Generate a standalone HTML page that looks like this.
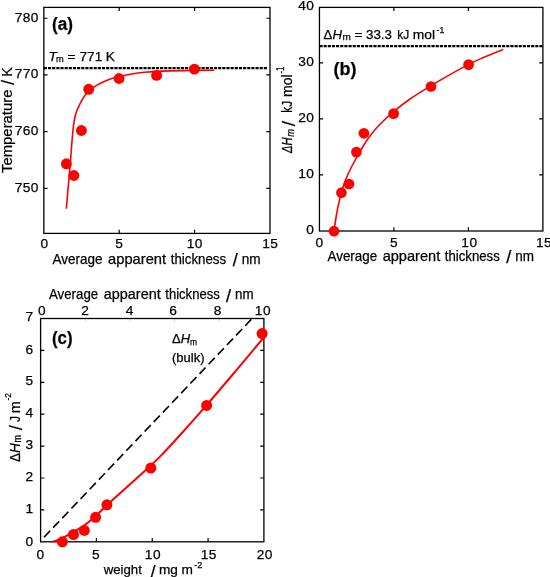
<!DOCTYPE html>
<html><head><meta charset="utf-8"><title>Figure</title>
<style>
html,body{margin:0;padding:0;background:#fff;}
svg{display:block;}
text{font-family:"Liberation Sans",sans-serif;font-size:13.7px;fill:#000;stroke:#000;stroke-width:0.25px;}
</style></head><body>
<svg width="550" height="577" viewBox="0 0 550 577">
<rect width="550" height="577" fill="#fff"/>
<!-- panel a -->
<path d="M43.85 18.25 h3.70 M270.00 18.25 h-3.70 M43.85 74.95 h3.70 M270.00 74.95 h-3.70 M43.85 131.60 h3.70 M270.00 131.60 h-3.70 M43.85 188.30 h3.70 M270.00 188.30 h-3.70 M119.20 7.40 v3.70 M119.20 233.40 v-3.70 M194.60 7.40 v3.70 M194.60 233.40 v-3.70 " fill="none" stroke="#000" stroke-width="1.20"/>
<rect x="43.85" y="7.40" width="226.15" height="226.00" fill="none" stroke="#000" stroke-width="1.30"/>
<path d="M43.85 68.15 H267.2" stroke="#000" stroke-width="2.1" stroke-dasharray="3.15 1" fill="none"/>
<path d="M66.30 208.80 C66.52 206.33 67.19 198.63 67.60 194.00 C68.01 189.37 68.40 185.00 68.75 181.00 C69.10 177.00 69.40 173.50 69.70 170.00 C70.00 166.50 70.28 163.33 70.55 160.00 C70.82 156.67 71.04 153.33 71.30 150.00 C71.56 146.67 71.82 143.33 72.10 140.00 C72.38 136.67 72.75 132.50 73.00 130.00 C73.25 127.50 73.38 126.67 73.60 125.00 C73.82 123.33 74.08 121.50 74.35 120.00 C74.62 118.50 74.89 117.23 75.20 116.00 C75.51 114.77 75.83 113.72 76.20 112.60 C76.58 111.48 77.00 110.35 77.45 109.30 C77.90 108.25 78.41 107.35 78.90 106.30 C79.39 105.25 79.87 104.05 80.40 103.00 C80.93 101.95 81.52 101.00 82.10 100.00 C82.68 99.00 83.25 98.00 83.90 97.00 C84.55 96.00 85.07 95.12 86.00 94.00 C86.93 92.88 88.17 91.47 89.50 90.30 C90.83 89.13 92.25 88.13 94.00 87.00 C95.75 85.87 98.00 84.53 100.00 83.50 C102.00 82.47 104.00 81.62 106.00 80.80 C108.00 79.98 109.83 79.30 112.00 78.60 C114.17 77.90 116.83 77.17 119.00 76.60 C121.17 76.03 122.65 75.67 125.00 75.20 C127.35 74.73 129.85 74.28 133.10 73.80 C136.35 73.32 140.68 72.70 144.50 72.30 C148.32 71.90 151.75 71.63 156.00 71.40 C160.25 71.17 163.58 71.05 170.00 70.90 C176.42 70.75 187.13 70.62 194.50 70.50 C201.87 70.38 210.92 70.25 214.20 70.20" fill="none" stroke="#ff0000" stroke-width="1.60"/>
<circle cx="66.40" cy="163.80" r="5.45" fill="#ff0000"/>
<circle cx="73.90" cy="175.50" r="5.45" fill="#ff0000"/>
<circle cx="81.40" cy="130.50" r="5.45" fill="#ff0000"/>
<circle cx="88.70" cy="89.30" r="5.45" fill="#ff0000"/>
<circle cx="119.10" cy="78.50" r="5.45" fill="#ff0000"/>
<circle cx="156.60" cy="75.40" r="5.45" fill="#ff0000"/>
<circle cx="194.40" cy="69.10" r="5.45" fill="#ff0000"/>
<text x="38.95" y="21.55" text-anchor="end" style="letter-spacing:0.45px;">780</text>
<text x="38.95" y="78.25" text-anchor="end" style="letter-spacing:0.45px;">770</text>
<text x="38.95" y="134.90" text-anchor="end" style="letter-spacing:0.45px;">760</text>
<text x="38.95" y="191.60" text-anchor="end" style="letter-spacing:0.45px;">750</text>
<text x="44.30" y="248.30" text-anchor="middle">0</text>
<text x="119.10" y="248.30" text-anchor="middle">5</text>
<text x="194.82" y="248.30" text-anchor="middle" style="letter-spacing:0.45px;">10</text>
<text x="270.23" y="248.30" text-anchor="middle" style="letter-spacing:0.45px;">15</text>
<text x="52.40" y="263.50" style="font-size:14.30px;" textLength="50.05" lengthAdjust="spacingAndGlyphs">Average</text>
<text x="108.05" y="263.50" style="font-size:14.30px;" textLength="58.06" lengthAdjust="spacingAndGlyphs">apparent</text>
<text x="170.71" y="263.50" style="font-size:14.30px;" textLength="55.45" lengthAdjust="spacingAndGlyphs">thickness</text>
<text x="235.18" y="265.90" text-anchor="middle" style="font-size:18.16px;">/</text>
<text x="241.78" y="263.50" style="font-size:14.30px;" textLength="18.92" lengthAdjust="spacingAndGlyphs">nm</text>
<g transform="translate(11.80 173.00) rotate(-90)">
<text x="0.00" y="0.00" style="font-size:14.30px;" textLength="83.50" lengthAdjust="spacingAndGlyphs">Temperature</text>
<text x="90.50" y="2.40" text-anchor="middle" style="font-size:18.16px;">/</text>
<text x="101.00" y="0.00" text-anchor="middle" style="font-size:14.30px;">K</text>
</g>
<text x="52.00" y="29.50" style="font-size:19.20px;font-weight:bold;" textLength="21.00" lengthAdjust="spacingAndGlyphs">(a)</text>
<text x="48.40" y="61.30" style="font-style:italic;">T</text>
<text x="56.00" y="62.40" style="font-size:9.60px;" textLength="7.70" lengthAdjust="spacingAndGlyphs">m</text>
<text x="71.50" y="61.30" text-anchor="middle">=</text>
<text x="79.50" y="61.30" textLength="22.70" lengthAdjust="spacingAndGlyphs">771</text>
<text x="110.40" y="61.30" text-anchor="middle">K</text>
<!-- panel b -->
<path d="M319.45 62.90 h3.70 M542.90 62.90 h-3.70 M319.45 118.85 h3.70 M542.90 118.85 h-3.70 M319.45 174.90 h3.70 M542.90 174.90 h-3.70 M393.90 7.40 v3.70 M393.90 231.00 v-3.70 M468.40 7.40 v3.70 M468.40 231.00 v-3.70 " fill="none" stroke="#000" stroke-width="1.20"/>
<rect x="319.45" y="7.40" width="223.45" height="223.60" fill="none" stroke="#000" stroke-width="1.30"/>
<path d="M319.45 46.1 H542.90" stroke="#000" stroke-width="2.1" stroke-dasharray="3.15 1" fill="none"/>
<path d="M334.00 231.00 C334.43 228.17 335.75 218.88 336.60 214.00 C337.45 209.12 338.17 205.70 339.10 201.70 C340.03 197.70 341.12 193.65 342.20 190.00 C343.28 186.35 343.97 183.80 345.60 179.80 C347.23 175.80 349.43 171.00 352.00 166.00 C354.57 161.00 358.17 154.60 361.00 149.80 C363.83 145.00 365.83 141.45 369.00 137.20 C372.17 132.95 375.88 128.57 380.00 124.30 C384.12 120.03 388.70 115.82 393.70 111.60 C398.70 107.38 403.75 103.33 410.00 99.00 C416.25 94.67 424.53 89.67 431.20 85.60 C437.87 81.53 443.75 78.13 450.00 74.60 C456.25 71.07 463.40 67.13 468.70 64.40 C474.00 61.67 477.50 60.12 481.80 58.20 C486.10 56.28 490.93 54.35 494.50 52.90 C498.07 51.45 501.75 50.07 503.20 49.50" fill="none" stroke="#ff0000" stroke-width="1.60"/>
<circle cx="334.00" cy="231.20" r="5.35" fill="#ff0000"/>
<circle cx="341.40" cy="192.70" r="5.35" fill="#ff0000"/>
<circle cx="349.00" cy="184.00" r="5.35" fill="#ff0000"/>
<circle cx="356.40" cy="152.10" r="5.35" fill="#ff0000"/>
<circle cx="363.90" cy="133.30" r="5.35" fill="#ff0000"/>
<circle cx="393.60" cy="113.60" r="5.35" fill="#ff0000"/>
<circle cx="431.00" cy="86.50" r="5.35" fill="#ff0000"/>
<circle cx="468.60" cy="64.60" r="5.35" fill="#ff0000"/>
<text x="314.40" y="10.30" text-anchor="end" style="letter-spacing:0.45px;">40</text>
<text x="314.40" y="66.30" text-anchor="end" style="letter-spacing:0.45px;">30</text>
<text x="314.40" y="122.25" text-anchor="end" style="letter-spacing:0.45px;">20</text>
<text x="314.40" y="178.30" text-anchor="end" style="letter-spacing:0.45px;">10</text>
<text x="313.95" y="234.40" text-anchor="end">0</text>
<text x="319.40" y="246.70" text-anchor="middle">0</text>
<text x="393.90" y="246.70" text-anchor="middle">5</text>
<text x="469.43" y="246.70" text-anchor="middle" style="letter-spacing:0.45px;">10</text>
<text x="544.02" y="246.70" text-anchor="middle" style="letter-spacing:0.45px;">15</text>
<text x="327.50" y="260.90" style="font-size:14.30px;" textLength="49.62" lengthAdjust="spacingAndGlyphs">Average</text>
<text x="382.67" y="260.90" style="font-size:14.30px;" textLength="57.55" lengthAdjust="spacingAndGlyphs">apparent</text>
<text x="444.79" y="260.90" style="font-size:14.30px;" textLength="54.97" lengthAdjust="spacingAndGlyphs">thickness</text>
<text x="508.70" y="263.30" text-anchor="middle" style="font-size:18.16px;">/</text>
<text x="515.25" y="260.90" style="font-size:14.30px;" textLength="18.75" lengthAdjust="spacingAndGlyphs">nm</text>
<g transform="translate(292.20 153.00) rotate(-90)">
<text x="0.00" y="0.00" style="font-size:14.90px;font-style:italic;" textLength="15.60" lengthAdjust="spacingAndGlyphs">ΔH</text>
<text x="16.20" y="1.30" style="font-size:10.40px;font-style:italic;" textLength="7.80" lengthAdjust="spacingAndGlyphs">m</text>
<text x="29.50" y="2.40" text-anchor="middle" style="font-size:18.92px;">/</text>
<text x="40.30" y="0.00" style="font-size:14.90px;" textLength="11.90" lengthAdjust="spacingAndGlyphs">kJ</text>
<text x="56.00" y="0.00" style="font-size:14.90px;" textLength="22.50" lengthAdjust="spacingAndGlyphs">mol</text>
<text x="79.50" y="-8.30" style="font-size:10.00px;" textLength="7.00" lengthAdjust="spacingAndGlyphs">-1</text>
</g>
<text x="333.50" y="75.20" style="font-size:19.20px;font-weight:bold;" textLength="23.00" lengthAdjust="spacingAndGlyphs">(b)</text>
<text x="323.60" y="39.00" textLength="18.30" lengthAdjust="spacingAndGlyphs">Δ<tspan font-style="italic">H</tspan></text>
<text x="342.50" y="40.10" style="font-size:9.60px;" textLength="8.30" lengthAdjust="spacingAndGlyphs">m</text>
<text x="358.55" y="39.00" text-anchor="middle">=</text>
<text x="366.00" y="39.00" textLength="26.00" lengthAdjust="spacingAndGlyphs">33.3</text>
<text x="397.30" y="39.00" textLength="12.00" lengthAdjust="spacingAndGlyphs">kJ</text>
<text x="412.70" y="39.00" textLength="22.30" lengthAdjust="spacingAndGlyphs">mol</text>
<text x="436.50" y="32.50" style="font-size:9.40px;" textLength="7.70" lengthAdjust="spacingAndGlyphs">-1</text>
<!-- panel c -->
<path d="M40.60 509.90 h3.70 M263.90 509.90 h-3.70 M40.60 478.00 h3.70 M263.90 478.00 h-3.70 M40.60 446.10 h3.70 M263.90 446.10 h-3.70 M40.60 414.20 h3.70 M263.90 414.20 h-3.70 M40.60 382.30 h3.70 M263.90 382.30 h-3.70 M40.60 350.40 h3.70 M263.90 350.40 h-3.70 M96.42 541.80 v-3.70 M152.25 541.80 v-3.70 M208.07 541.80 v-3.70 " fill="none" stroke="#000" stroke-width="1.20"/>
<path d="M85.26 318.50 v3.20 M129.92 318.50 v3.20 M174.58 318.50 v3.20 M219.24 318.50 v3.20 " fill="none" stroke="#d0d0d0" stroke-width="1.00"/>
<rect x="40.60" y="318.50" width="223.30" height="223.30" fill="none" stroke="#000" stroke-width="1.30"/>
<path d="M44 537.3 L251.7 319.0" stroke="#000" stroke-width="1.65" stroke-dasharray="8.8 4.47" fill="none"/>
<path d="M52.30 541.80 C53.58 541.37 57.33 540.37 60.00 539.20 C62.67 538.03 64.25 537.10 68.30 534.80 C72.35 532.50 79.77 528.50 84.30 525.40 C88.83 522.30 91.72 519.60 95.50 516.20 C99.28 512.80 102.08 509.57 107.00 505.00 C111.92 500.43 118.67 494.50 125.00 488.80 C131.33 483.10 139.00 476.33 145.00 470.80 C151.00 465.27 155.00 461.73 161.00 455.60 C167.00 449.47 173.43 442.37 181.00 434.00 C188.57 425.63 197.40 415.77 206.40 405.40 C215.40 395.03 225.42 383.15 235.00 371.80 C244.58 360.45 259.08 343.05 263.90 337.30" fill="none" stroke="#ff0000" stroke-width="2.00"/>
<circle cx="62.40" cy="541.80" r="5.50" fill="#ff0000"/>
<circle cx="73.50" cy="534.50" r="5.50" fill="#ff0000"/>
<circle cx="84.30" cy="530.40" r="5.50" fill="#ff0000"/>
<circle cx="95.60" cy="517.30" r="5.50" fill="#ff0000"/>
<circle cx="106.90" cy="504.80" r="5.50" fill="#ff0000"/>
<circle cx="150.80" cy="468.10" r="5.50" fill="#ff0000"/>
<circle cx="206.60" cy="405.40" r="5.50" fill="#ff0000"/>
<circle cx="262.10" cy="333.60" r="5.50" fill="#ff0000"/>
<text x="33.20" y="545.80" text-anchor="end">0</text>
<text x="33.20" y="513.00" text-anchor="end">1</text>
<text x="33.20" y="481.10" text-anchor="end">2</text>
<text x="33.20" y="449.20" text-anchor="end">3</text>
<text x="33.20" y="417.30" text-anchor="end">4</text>
<text x="33.20" y="385.40" text-anchor="end">5</text>
<text x="33.20" y="353.50" text-anchor="end">6</text>
<text x="33.20" y="320.80" text-anchor="end">7</text>
<text x="40.30" y="559.00" text-anchor="middle">0</text>
<text x="95.90" y="559.00" text-anchor="middle">5</text>
<text x="152.92" y="559.00" text-anchor="middle" style="letter-spacing:0.45px;">10</text>
<text x="208.72" y="559.00" text-anchor="middle" style="letter-spacing:0.45px;">15</text>
<text x="264.73" y="559.00" text-anchor="middle" style="letter-spacing:0.45px;">20</text>
<text x="41.70" y="315.30" text-anchor="middle">0</text>
<text x="85.10" y="315.30" text-anchor="middle">2</text>
<text x="129.60" y="315.30" text-anchor="middle">4</text>
<text x="173.10" y="315.30" text-anchor="middle">6</text>
<text x="217.60" y="315.30" text-anchor="middle">8</text>
<text x="262.93" y="315.30" text-anchor="middle" style="letter-spacing:0.45px;">10</text>
<text x="49.00" y="299.10" style="font-size:14.30px;" textLength="49.18" lengthAdjust="spacingAndGlyphs">Average</text>
<text x="103.69" y="299.10" style="font-size:14.30px;" textLength="57.05" lengthAdjust="spacingAndGlyphs">apparent</text>
<text x="165.27" y="299.10" style="font-size:14.30px;" textLength="54.49" lengthAdjust="spacingAndGlyphs">thickness</text>
<text x="228.62" y="301.50" text-anchor="middle" style="font-size:18.16px;">/</text>
<text x="235.11" y="299.10" style="font-size:14.30px;" textLength="18.59" lengthAdjust="spacingAndGlyphs">nm</text>
<text x="103.70" y="574.30" textLength="38.20" lengthAdjust="spacingAndGlyphs">weight</text>
<text x="153.15" y="576.70" text-anchor="middle" style="font-size:17.40px;">/</text>
<text x="159.00" y="574.30" textLength="18.90" lengthAdjust="spacingAndGlyphs">mg</text>
<text x="187.20" y="574.30" text-anchor="middle">m</text>
<text x="194.30" y="568.40" style="font-size:9.40px;" textLength="8.10" lengthAdjust="spacingAndGlyphs">-2</text>
<g transform="translate(19.90 462.00) rotate(-90)">
<text x="0.00" y="0.00" style="font-size:14.50px;" textLength="18.80" lengthAdjust="spacingAndGlyphs">Δ<tspan font-style="italic">H</tspan></text>
<text x="19.50" y="1.50" style="font-size:10.00px;" textLength="7.50" lengthAdjust="spacingAndGlyphs">m</text>
<text x="34.25" y="2.40" text-anchor="middle" style="font-size:18.41px;">/</text>
<text x="40.00" y="0.00" style="font-size:14.50px;" textLength="6.00" lengthAdjust="spacingAndGlyphs">J</text>
<text x="54.85" y="0.00" text-anchor="middle" style="font-size:14.50px;">m</text>
<text x="61.50" y="-8.50" style="font-size:9.80px;" textLength="7.50" lengthAdjust="spacingAndGlyphs">-2</text>
</g>
<text x="52.00" y="343.80" style="font-size:19.20px;font-weight:bold;" textLength="20.50" lengthAdjust="spacingAndGlyphs">(c)</text>
<text x="172.00" y="343.20" style="font-size:12.90px;" textLength="18.00" lengthAdjust="spacingAndGlyphs">Δ<tspan font-style="italic">H</tspan></text>
<text x="190.00" y="344.50" style="font-size:9.00px;" textLength="7.00" lengthAdjust="spacingAndGlyphs">m</text>
<text x="172.00" y="361.90" style="font-size:12.90px;" textLength="32.50" lengthAdjust="spacingAndGlyphs">(bulk)</text>
</svg>
</body></html>
